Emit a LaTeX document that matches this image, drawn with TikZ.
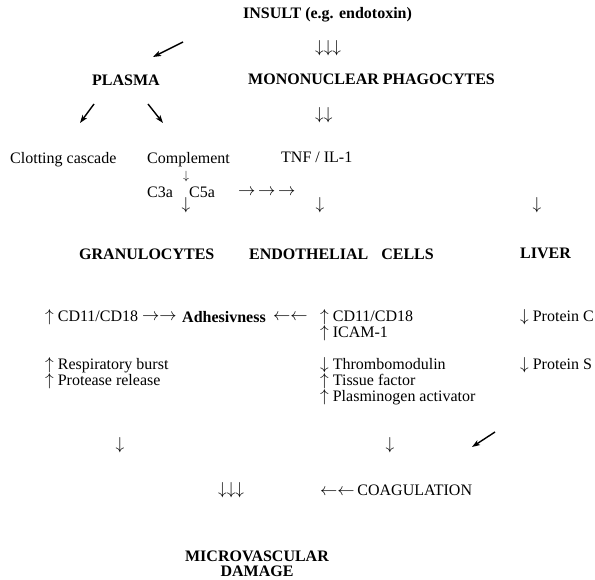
\documentclass[tikz,border=0pt]{standalone}
\usepackage{fontspec}
\setmainfont{Liberation Serif}
\usetikzlibrary{arrows.meta}
\newcommand\myd{$\downarrow$}
\newcommand\myu{$\uparrow$}
\newcommand\myr{$\rightarrow$}
\newcommand\myl{$\leftarrow$}
\begin{document}
\begin{tikzpicture}[x=1pt,y=-1pt,
  txt/.style={inner sep=0pt, anchor=west, font=\fontsize{16}{16}\selectfont},
  bld/.style={inner sep=0pt, anchor=west, font=\fontsize{16}{16}\selectfont\bfseries},
  glyph/.style={inner sep=0pt, anchor=center, font=\fontsize{16}{16}\selectfont},
  diag/.style={line width=1.4pt, -{Stealth[length=8pt,width=5.5pt,inset=2pt]}}]
\useasboundingbox (0,0) rectangle (595,580);
% top
\node[bld] (insult) at (243,15) {INSULT (e.g. endotoxin)};
\node[txt] (a1) at (315,48) {\myd\myd\myd};
\node[bld] (plasma) at (92,80) {PLASMA};
\node[bld] (mono) at (248,79) {MONONUCLEAR PHAGOCYTES};
\node[txt] (a2) at (315,115) {\myd\myd};
\coordinate (d1s) at (183,42); \coordinate (d1e) at (153,57);
\draw[diag] (d1s) -- (d1e);
\coordinate (d2s) at (94,104); \coordinate (d2e) at (80,123);
\draw[diag] (d2s) -- (d2e);
\coordinate (d3s) at (148,104); \coordinate (d3e) at (163,123);
\draw[diag] (d3s) -- (d3e);
% mediators
\node[txt] (clot) at (10,160) {Clotting cascade};
\node[txt] (compl) at (147,160) {Complement};
\node[txt] (tnf) at (281,157) {TNF / IL-1};
\node[glyph, font=\fontsize{12}{12}\selectfont] (a3) at (186,177) {\myd};
\node[txt] (c3a) at (147,192) {C3a};
\node[txt] (c5a) at (189,192) {C5a};
\node[glyph] (a4) at (186,205) {\myd};
\node[txt] (a5) at (238,192) {\myr\,\myr\,\myr};
\node[glyph] (a6) at (320,205) {\myd};
\node[glyph] (a7) at (537,205) {\myd};
% cells
\node[bld] (gran) at (79,254) {GRANULOCYTES};
\node[bld] (endo) at (249,254) {ENDOTHELIAL\hspace{13pt}CELLS};
\node[bld] (liver) at (520,253) {LIVER};
% effects
\node[txt] (cd1) at (45,317) {\myu{} CD11/CD18};
\node[txt] (ar1) at (142,317) {\myr\myr};
\node[bld] (adh) at (182,317) {Adhesivness};
\node[txt] (ar2) at (273,317) {\myl\myl};
\node[txt] (cd2) at (320,317) {\myu{} CD11/CD18};
\node[txt] (icam) at (320,333) {\myu{} ICAM-1};
\node[txt] (protc) at (520,317) {\myd{} Protein C};
\node[txt] (resp) at (45,365) {\myu{} Respiratory burst};
\node[txt] (prot) at (45,381) {\myu{} Protease release};
\node[txt] (thr) at (320,365) {\myd{} Thrombomodulin};
\node[txt] (tis) at (320,381) {\myu{} Tissue factor};
\node[txt] (pla) at (320,397) {\myu{} Plasminogen activator};
\node[txt] (prots) at (520,365) {\myd{} Protein S};
% bottom
\node[glyph] (a8) at (120,445) {\myd};
\node[glyph] (a9) at (390,445) {\myd};
\coordinate (d4s) at (495,432); \coordinate (d4e) at (472,447);
\draw[diag] (d4s) -- (d4e);
\node[txt] (a10) at (218,490) {\myd\myd\myd};
\node[txt] (coag) at (320,490) {\myl\myl\,COAGULATION};
\node[inner sep=0pt, align=center, font=\fontsize{16}{15}\selectfont\bfseries] (micro) at (257,564) {MICROVASCULAR\\DAMAGE};
\end{tikzpicture}
\end{document}
